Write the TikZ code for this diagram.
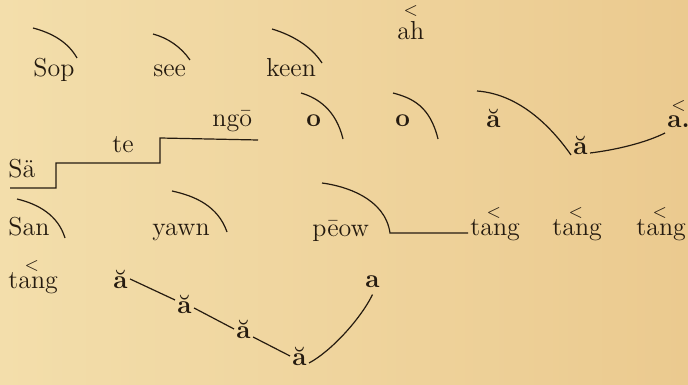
\documentclass[tikz,border=0pt]{standalone}
\usepackage{tikz}
\usetikzlibrary{calc}
\definecolor{paperLight}{HTML}{F3DEAB}
\definecolor{paperDark}{HTML}{EBCA8F}
\definecolor{inkBrown}{HTML}{251B10}
\newcommand{\toneup}[1]{$\mathop{\mbox{#1}}\limits^{\raisebox{1pt}{$\scriptstyle<$}}$}

\begin{document}
\begin{tikzpicture}[
    x=0.5pt, y=-0.5pt,
    syl/.style={anchor=base west, inner sep=1pt, text=inkBrown, font=\fontsize{13}{15}\selectfont},
    bsyl/.style={syl, font=\fontsize{13}{15}\selectfont\bfseries},
    tone/.style={draw=inkBrown, line width=0.6pt},
  ]
    \shade[left color=paperLight, right color=paperDark] (0,0) rectangle (688,384);
    \useasboundingbox (0,0) rectangle (688,384);

    % Line 1
    \node[syl] (sop) at (31,77) {Sop};
    \node[syl] (see) at (151,77) {see};
    \node[syl] (keen) at (264,77) {keen};
    \node[syl] (ah) at (395,40) {\toneup{ah}};
    \draw[tone] (33,28) .. controls (52,33) and (68,42) .. (77,58);
    \draw[tone] (153,34) .. controls (168,38) and (181,47) .. (190,60);
    \draw[tone] (272,29) .. controls (292,35) and (311,46) .. (322,63);

    % Line 2
    \node[syl] (sa) at (6,178) {S\"a};
    \node[syl] (te) at (110,153) {te};
    \node[syl] (ngo) at (210,127) {ng\=o};
    \node[bsyl] (o1) at (304,127) {o};
    \node[bsyl] (o2) at (393,127) {o};
    \node[bsyl] (ab1) at (484,128) {\u{a}};
    \node[bsyl] (ab2) at (571,155) {\u{a}};
    \node[bsyl] (aend) at (665,128) {\toneup{a.}};
    \draw[tone] (10,188) -- (56,188) -- (56,163) -- (160,163) -- (160,138) -- (258,140);
    \draw[tone] (301,93) .. controls (318,98) and (336,110) .. (343,139);
    \draw[tone] (393,93) .. controls (412,98) and (430,106) .. (438,139);
    \draw[tone] (477,91) .. controls (518,94) and (550,125) .. (ab2.base west);
    \draw[tone] ([yshift=1pt]ab2.base east) .. controls (615,150) and (645,143) .. ([yshift=-2.5pt]aend.base west);

    % Line 3
    \node[syl] (san) at (6,235) {San};
    \node[syl] (yawn) at (150,235) {yawn};
    \node[syl] (peow) at (310,236) {p\=eow};
    \node[syl] (t1) at (468,235) {t\toneup{an}g};
    \node[syl] (t2) at (550,235) {t\toneup{an}g};
    \node[syl] (t3) at (634,235) {t\toneup{an}g};
    \draw[tone] (17,199) .. controls (38,204) and (58,215) .. (65,238);
    \draw[tone] (172,191) .. controls (195,196) and (218,206) .. (227,232);
    \draw[tone] (322,183) .. controls (345,186) and (385,198) .. (390,233) -- ([yshift=1pt]t1.base west);

    % Line 4
    \node[syl] (t4) at (6,288) {t\toneup{an}g};
    \node[bsyl] (b1) at (111,288) {\u{a}};
    \node[bsyl] (b2) at (175,313) {\u{a}};
    \node[bsyl] (b3) at (234,338) {\u{a}};
    \node[bsyl] (b4) at (290,365) {\u{a}};
    \node[bsyl] (atop) at (363,287) {a};
    \draw[tone] (b1.east) -- ([yshift=2pt]b2.west);
    \draw[tone] ([yshift=-2pt]b2.east) -- (b3.west);
    \draw[tone] ([yshift=-4pt]b3.east) -- (b4.west);
    \draw[tone] ([yshift=-3.5pt]b4.east) .. controls (330,352) and (360,320) .. ([yshift=-2.5pt]atop.south);
  \end{tikzpicture}
\end{document}
